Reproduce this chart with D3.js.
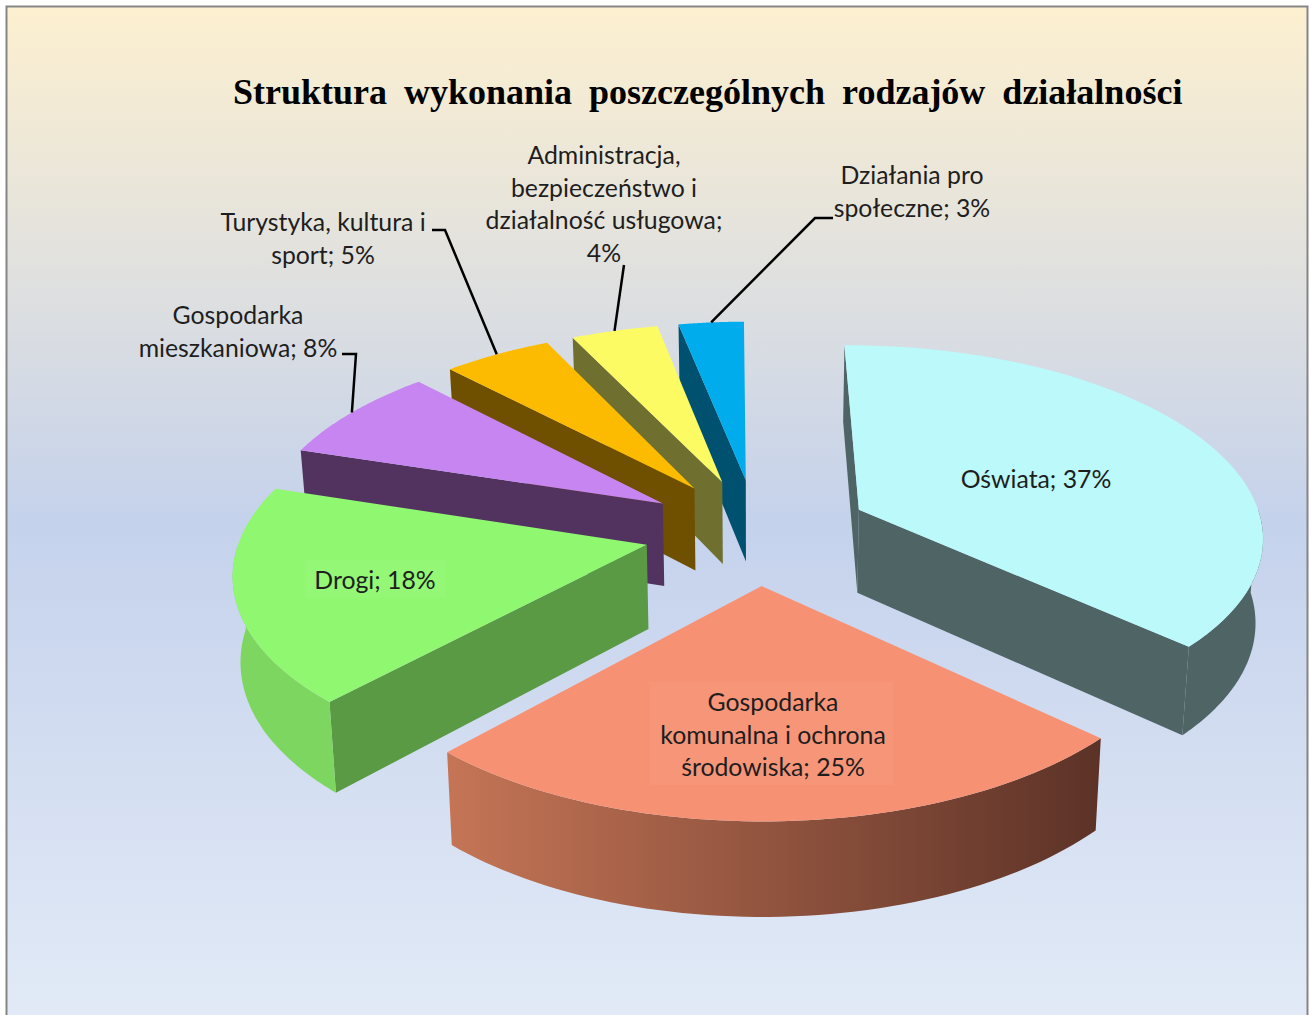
<!DOCTYPE html>
<html>
<head>
<meta charset="utf-8">
<script src="https://cdn.jsdelivr.net/npm/d3@7"></script>
<style>
	body { margin: 0; background: #fff; }
	svg { display: block; }
	.label { font-family: Lato, sans-serif; font-size: 24.8px; fill: #1e1e1e; text-anchor: middle; }
	.title { font-family: 'Liberation Serif', serif; font-size: 36px; font-weight: bold; fill: #000; word-spacing: 8px; }
</style>
</head>
<body>
<script>
const title = 'Struktura wykonania poszczególnych rodzajów działalności';

// clockwise from the top, same order as in the chart
const categories = [
	'Oświata',
	'Gospodarka komunalna i ochrona środowiska',
	'Drogi',
	'Gospodarka mieszkaniowa',
	'Turystyka, kultura i sport',
	'Administracja, bezpieczeństwo i działalność usługowa',
	'Działania pro społeczne',
];
const values = [37, 25, 18, 8, 5, 4, 3];

const labelLines = [
	['Oświata; 37%'],
	['Gospodarka', 'komunalna i ochrona', 'środowiska; 25%'],
	['Drogi; 18%'],
	['Gospodarka', 'mieszkaniowa; 8%'],
	['Turystyka, kultura i', 'sport; 5%'],
	['Administracja,', 'bezpieczeństwo i', 'działalność usługowa;', '4%'],
	['Działania pro', 'społeczne; 3%'],
];

const topColors = ['#bbf9fa', '#f79174', '#90f770', '#c785f2', '#fdbb00', '#fdfb64', '#00acec'];
const wallColors = ['#4f6565', '#6b3a2c', '#5a9a45', '#523360', '#6f5000', '#6f6f30', '#005070'];
const rimColors = ['#4f6565', 'url(#rimGosp)', '#7dd65f', '#523360', '#6f5000', '#6f6f30', '#005070'];

const width = 1311;
const height = 1015;

// pie geometry
const cx = 757;
const cy = 531;
const R = 405;
const explode = 113;
const tilt = 0.47;
const camera = 3200;
const depth = 85;
const bottomShrink = 0.015;
const startDeg = -0.5;

// label layout: centre x, baseline of first line, line step
const labelPos = [
	{ x: 1036, y: 488 },
	{ x: 773, y: 711 },
	{ x: 375, y: 589 },
	{ x: 238, y: 324 },
	{ x: 323, y: 231 },
	{ x: 604, y: 164 },
	{ x: 912, y: 184 },
];
const lineStep = 32.5;

// leader lines start at the label, end on the slice rim (null: label sits on the slice)
const leaders = [
	null,
	null,
	null,
	[[342, 354], [356, 354]],
	[[432, 230], [445, 230]],
	[[624, 265]],
	[[833, 218], [815, 218]],
];

// patches behind the labels that sit on slices
const patches = [
	{ i: 1, x: 650, y: 682, w: 243, h: 103 },
	{ i: 2, x: 305, y: 560, w: 140, h: 38 },
];

const svg = d3.select('body').append('svg').attr('width', width).attr('height', height);
const defs = svg.append('defs');

const bg = defs.append('linearGradient').attr('id', 'bg').attr('x1', 0).attr('x2', 0).attr('y1', 0).attr('y2', 1);
bg.append('stop').attr('offset', '0%').attr('stop-color', '#fdf0d0');
bg.append('stop').attr('offset', '50%').attr('stop-color', '#c5d2ec');
bg.append('stop').attr('offset', '100%').attr('stop-color', '#e3ebf7');

const rim = defs.append('linearGradient').attr('id', 'rimGosp').attr('x1', 0).attr('x2', 1).attr('y1', 0).attr('y2', 0);
rim.append('stop').attr('offset', '0%').attr('stop-color', '#c57556');
rim.append('stop').attr('offset', '100%').attr('stop-color', '#5c3227');

svg.append('rect')
	.attr('x', 6.5)
	.attr('y', 6.5)
	.attr('width', 1301)
	.attr('height', 1030)
	.attr('fill', 'url(#bg)')
	.attr('stroke', '#858585')
	.attr('stroke-width', 2);

svg.append('text')
	.attr('class', 'title')
	.attr('x', 233)
	.attr('y', 104)
	.text(title);

// ground point + height (0 top, 1 bottom) to screen
function project(gx, gy, z) {
	const s = (1 / (1 - gy / camera)) * (1 - z * bottomShrink);
	return [cx + gx * s, cy + (tilt * gy + depth * z) * s];
}

const start = startDeg * Math.PI / 180;
const pie = d3.pie().sort(null).startAngle(start).endAngle(start + 2 * Math.PI);
const arcs = pie(values).map((d, i) => {
	const mid = (d.startAngle + d.endAngle) / 2;
	return {
		i,
		a0: d.startAngle,
		a1: d.endAngle,
		mid,
		ox: explode * Math.sin(mid),
		oy: -explode * Math.cos(mid),
	};
});

const onRim = (d, a, z) => project(d.ox + R * Math.sin(a), d.oy - R * Math.cos(a), z);
const apex = (d, z) => project(d.ox, d.oy, z);
const arcPoints = (a0, a1, f) => d3.range(0, 61).map(k => f(a0 + (a1 - a0) * k / 60));
const line = d3.line();

const order = arcs.slice().sort((a, b) => (a.oy - R * 0.3 * Math.cos(a.mid)) - (b.oy - R * 0.3 * Math.cos(b.mid)));

const slices = svg.selectAll('g.slice')
	.data(order)
	.enter()
	.append('g')
	.attr('class', 'slice');

slices.each(function(d) {
	const g = d3.select(this);

	// flat cut faces, only those turned to the viewer
	const faces = [
		[apex(d, 0), apex(d, 1), onRim(d, d.a0, 1), onRim(d, d.a0, 0)],
		[onRim(d, d.a1, 0), onRim(d, d.a1, 1), apex(d, 1), apex(d, 0)],
	];
	faces.forEach(f => {
		if (d3.polygonArea(f) < 0) {
			g.append('path').attr('d', line(f) + 'Z').attr('fill', wallColors[d.i]);
		}
	});

	// outer rim, front half of the circle only
	const r0 = Math.max(d.a0, Math.PI / 2);
	const r1 = Math.min(d.a1, Math.PI * 1.5);
	if (r1 > r0) {
		const pts = arcPoints(r0, r1, a => onRim(d, a, 0))
			.concat(arcPoints(r1, r0, a => onRim(d, a, 1)));
		g.append('path').attr('d', line(pts) + 'Z').attr('fill', rimColors[d.i]);
	}

	// top face
	const top = [apex(d, 0)].concat(arcPoints(d.a0, d.a1, a => onRim(d, a, 0)));
	g.append('path').attr('d', line(top) + 'Z').attr('fill', topColors[d.i]);
});

svg.selectAll('rect.patch')
	.data(patches)
	.enter()
	.append('rect')
	.attr('class', 'patch')
	.attr('x', d => d.x)
	.attr('y', d => d.y)
	.attr('width', d => d.w)
	.attr('height', d => d.h)
	.attr('fill', '#fff')
	.attr('opacity', 0.04);

svg.selectAll('path.leader')
	.data(arcs.filter(d => leaders[d.i]))
	.enter()
	.append('path')
	.attr('class', 'leader')
	.attr('d', d => line(leaders[d.i].concat([onRim(d, d.mid, 0)])))
	.attr('fill', 'none')
	.attr('stroke', '#000')
	.attr('stroke-width', 2.5);

const labels = svg.selectAll('text.label')
	.data(labelLines)
	.enter()
	.append('text')
	.attr('class', 'label')
	.attr('aria-label', (d, i) => categories[i]);

labels.selectAll('tspan')
	.data((d, i) => d.map((t, k) => ({ t, k, i })))
	.enter()
	.append('tspan')
	.attr('x', d => labelPos[d.i].x)
	.attr('y', d => labelPos[d.i].y + d.k * lineStep)
	.text(d => d.t);
</script>
</body>
</html>
